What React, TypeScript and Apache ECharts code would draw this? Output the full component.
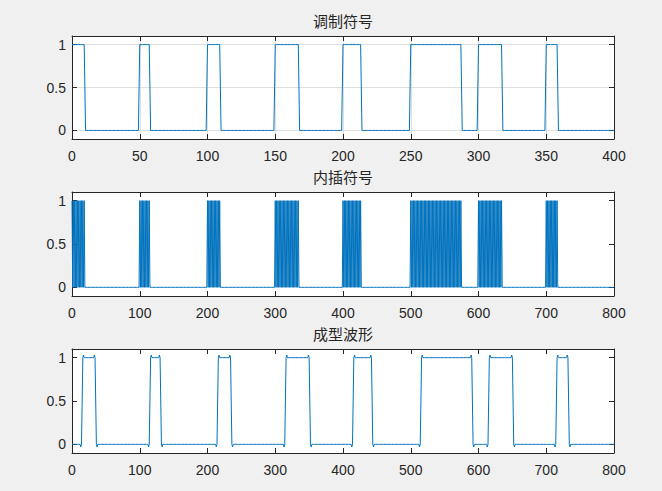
import React, { useEffect, useRef } from "react";
import * as echarts from "echarts";

// Modulated symbols: sample ranges (inclusive) where the symbol is 1
const topHighStart = [0, 50, 100, 150, 200, 250, 300, 350];
const topHighEnd = [9, 57, 109, 167, 213, 287, 317, 358];
const topLength = 400;
const interpFactor = 2;
const shapeDelay = 16;
// Shaped waveform edge samples: [offset from edge, value]
const risingEdge: [number, number][] = [[-3, -0.03], [-1, 0.5], [1, 1.03]];
const fallingEdge: [number, number][] = [[-1, 1.03], [1, 0.5], [3, -0.03]];

const titles = ["调制符号", "内插符号", "成型波形"];
const xMaxes = [400, 800, 800];
const xIntervals = [50, 100, 100];
const yTickValues = [0, 0.5, 1];
const showGrid = [true, false, false];

function buildTop(): number[] {
  const out: number[] = [];
  for (let x = 0; x <= topLength; x++) {
    let v = 0;
    for (let k = 0; k < topHighStart.length; k++) {
      if (x >= topHighStart[k] && x <= topHighEnd[k]) v = 1;
    }
    out.push(v);
  }
  return out;
}

function buildMid(top: number[]): number[] {
  const out: number[] = [];
  const n = topLength * interpFactor;
  for (let x = 0; x <= n; x++) {
    if (x % interpFactor === 0 && x / interpFactor < topLength) out.push(top[x / interpFactor]);
    else out.push(0);
  }
  return out;
}

function buildShaped(): number[] {
  const n = topLength * interpFactor;
  const out: number[] = new Array(n + 1).fill(0);
  for (let k = 0; k < topHighStart.length; k++) {
    const r = topHighStart[k] * interpFactor + shapeDelay;
    const f = topHighEnd[k] * interpFactor + shapeDelay;
    for (let x = r; x <= f && x <= n; x++) out[x] = 1;
  }
  for (let k = 0; k < topHighStart.length; k++) {
    const r = topHighStart[k] * interpFactor + shapeDelay;
    const f = topHighEnd[k] * interpFactor + shapeDelay;
    risingEdge.forEach(([o, v]) => {
      if (r + o >= 0 && r + o <= n) out[r + o] = v;
    });
    fallingEdge.forEach(([o, v]) => {
      if (f + o >= 0 && f + o <= n) out[f + o] = v;
    });
  }
  return out;
}

export default function App() {
  const ref = useRef<HTMLDivElement>(null);
  useEffect(() => {
    document.body.style.margin = "0";
    if (!ref.current) return;
    const chart = echarts.init(ref.current, undefined, { renderer: "svg" });

    const top = buildTop();
    const mid = buildMid(top);
    const shaped = buildShaped();
    const datasets = [top, mid, shaped];

    const gridTops = [36, 192, 349];
    const gridHeights = [103, 104, 104];
    const axisColor = "#262626";
    const labelFont = {
      color: axisColor,
      fontSize: 14,
      fontFamily: "Liberation Sans, Arial, sans-serif",
    };

    const grids: any[] = [];
    const xAxes: any[] = [];
    const yAxes: any[] = [];
    const series: any[] = [];
    const titleOpts: any[] = [];

    for (let i = 0; i < 3; i++) {
      grids.push({
        left: 72,
        top: gridTops[i],
        width: 542,
        height: gridHeights[i],
        show: true,
        backgroundColor: "#ffffff",
        borderWidth: 0,
      });
      const xBase = {
        type: "value",
        gridIndex: i,
        min: 0,
        max: xMaxes[i],
        interval: xIntervals[i],
        axisLine: { show: true, onZero: false, lineStyle: { color: axisColor, width: 1 } },
        axisTick: { show: true, inside: true, length: 5, lineStyle: { color: axisColor } },
      };
      xAxes.push({
        ...xBase,
        position: "bottom",
        axisLabel: { ...labelFont, margin: 10 },
        splitLine: { show: showGrid[i], lineStyle: { color: "#dfdfdf", width: 1 } },
      });
      xAxes.push({
        ...xBase,
        position: "top",
        axisLabel: { show: false },
        splitLine: { show: false },
      });
      const yBase = {
        type: "value",
        gridIndex: i,
        min: -0.1,
        max: 1.1,
        axisLine: { show: true, onZero: false, lineStyle: { color: axisColor, width: 1 } },
        axisTick: {
          show: true,
          inside: true,
          length: 5,
          customValues: yTickValues,
          lineStyle: { color: axisColor },
        },
      };
      yAxes.push({
        ...yBase,
        position: "left",
        axisLabel: { ...labelFont, margin: 6, customValues: yTickValues },
        splitLine: { show: showGrid[i], lineStyle: { color: "#dfdfdf", width: 1 } },
      });
      yAxes.push({
        ...yBase,
        position: "right",
        axisLabel: { show: false },
        splitLine: { show: false },
      });

      series.push({
        type: "line",
        xAxisIndex: 2 * i,
        yAxisIndex: 2 * i,
        data: datasets[i].map((v, x) => [x, v]),
        showSymbol: false,
        z: 3,
        lineStyle: { color: "#0072BD", width: 1 },
        itemStyle: { color: "#0072BD" },
      });

      titleOpts.push({
        text: titles[i],
        left: 343,
        top: gridTops[i] - 23,
        textAlign: "center",
        padding: 0,
        textStyle: {
          color: axisColor,
          fontSize: 15,
          fontWeight: "normal",
          fontFamily: "Noto Sans CJK SC, sans-serif",
        },
      });
    }

    chart.setOption({
      animation: false,
      backgroundColor: "#f0f0f0",
      title: titleOpts,
      grid: grids,
      xAxis: xAxes,
      yAxis: yAxes,
      series,
    });
    return () => chart.dispose();
  }, []);
  return <div ref={ref} style={{ width: 662, height: 491 }} />;
}
